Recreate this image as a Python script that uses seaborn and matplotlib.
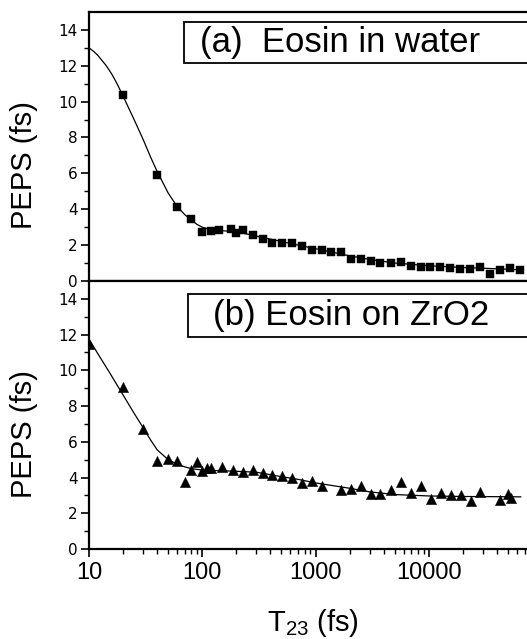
import numpy as np
import pandas as pd
import matplotlib
matplotlib.use("Agg")
import matplotlib.pyplot as plt
import seaborn as sns
from matplotlib.patches import Rectangle
from matplotlib.ticker import FixedLocator, LogLocator, NullFormatter

sns.set_theme(style="ticks")
plt.rcParams["font.family"] = ["Liberation Sans", "DejaVu Sans"]
plt.rcParams["mathtext.default"] = "regular"
plt.rcParams["text.color"] = "black"
plt.rcParams["axes.labelcolor"] = "black"
plt.rcParams["xtick.color"] = "black"
plt.rcParams["ytick.color"] = "black"

# -------------------------------------------------------
# data
# -------------------------------------------------------

# (a) eosin in water - measured points
water_t = [20, 40, 60, 80, 100, 120, 140, 180, 200, 230, 280, 343, 412, 505, 620,
           760, 930, 1140, 1370, 1680, 2060, 2530, 3100, 3740, 4590, 5630, 6900,
           8470, 10200, 12500, 15400, 18800, 23100, 28400, 34800, 42700, 52400, 64300]
water_peps = [10.35, 5.9, 4.1, 3.45, 2.75, 2.8, 2.85, 2.9, 2.7, 2.85, 2.55, 2.35, 2.1,
              2.1, 2.1, 1.95, 1.75, 1.75, 1.6, 1.6, 1.25, 1.2, 1.1, 1.0, 1.0, 1.05,
              0.85, 0.8, 0.8, 0.8, 0.72, 0.68, 0.68, 0.78, 0.4, 0.62, 0.75, 0.6]

# (a) fit curve
water_fit_t = [10, 11, 12, 13, 14, 15, 16, 17, 18, 20, 25, 30, 35, 40, 50, 60, 70,
               80, 90, 100, 120, 150, 200, 300, 500, 700, 1000, 2000, 3000, 5000,
               10000, 20000, 40000, 65000]
water_fit = [13.0, 12.8, 12.57, 12.3, 12.05, 11.78, 11.5, 11.2, 10.9, 10.3, 9.0, 7.9,
             6.9, 6.1, 4.9, 4.15, 3.7, 3.4, 3.15, 3.0, 2.85, 2.8, 2.75, 2.5, 2.2,
             2.0, 1.8, 1.4, 1.2, 1.0, 0.85, 0.75, 0.68, 0.62]

# (b) eosin on ZrO2 - measured points
zro2_t = [10, 20, 30, 40, 50, 60, 70, 80, 90, 100, 110, 120, 150, 186, 228, 280, 343,
          412, 505, 620, 760, 930, 1140, 1680, 2060, 2530, 3100, 3740, 4590, 5630,
          6900, 8470, 10400, 12800, 15700, 19300, 23700, 28500, 42700, 50000, 53000]
zro2_peps = [11.47, 9.07, 6.72, 4.9, 5.05, 4.94, 3.77, 4.43, 4.88, 4.37, 4.54, 4.54,
             4.6, 4.43, 4.3, 4.4, 4.24, 4.15, 4.1, 3.97, 3.68, 3.8, 3.53, 3.31, 3.37,
             3.53, 3.07, 3.07, 3.3, 3.75, 3.14, 3.53, 2.81, 3.14, 3.03, 3.03, 2.7,
             3.2, 2.76, 3.1, 2.85]

# (b) fit curve
zro2_fit_t = [10, 12, 15, 20, 25, 30, 35, 40, 50, 60, 70, 80, 100, 150, 200, 300,
              500, 700, 1000, 2000, 3000, 5000, 10000, 20000, 40000, 65000]
zro2_fit = [11.75, 10.92, 9.93, 8.62, 7.6, 6.8, 6.1, 5.55, 5.0, 4.75, 4.6, 4.5, 4.42,
            4.38, 4.35, 4.3, 4.05, 3.9, 3.7, 3.4, 3.2, 3.05, 2.97, 2.94, 2.93, 2.92]

panel_titles = ["(a)  Eosin in water", "(b) Eosin on ZrO2"]

# -------------------------------------------------------
# figure layout - two stacked panels sharing the log axis
# -------------------------------------------------------

fig = plt.figure(figsize=(5.27, 6.39), dpi=100)
ax_top = fig.add_axes([0.1689, 0.5603, 0.8311, 0.4210])
ax_bot = fig.add_axes([0.1689, 0.1408, 0.8311, 0.4194])

panels = [
    (ax_top, water_t, water_peps, water_fit_t, water_fit, "s", 38),
    (ax_bot, zro2_t, zro2_peps, zro2_fit_t, zro2_fit, "^", 55),
]

box_pos = [(0.217, 0.810, 0.153), (0.226, 0.791, 0.160)]
text_pos = [(0.253, 0.887), (0.283, 0.871)]

for i, (ax, t, p, ft, fv, mk, sz) in enumerate(panels):
    fit_df = pd.DataFrame({"t": ft, "peps": fv})
    pts_df = pd.DataFrame({"t": t, "peps": p})
    sns.lineplot(data=fit_df, x="t", y="peps", ax=ax, color="black", lw=0.9)
    sns.scatterplot(data=pts_df, x="t", y="peps", ax=ax, marker=mk, s=sz,
                    color="black", edgecolor="black", linewidth=0.3, zorder=3)

    ax.set_xscale("log")
    ax.set_xlim(10, 73500)
    ax.set_ylim(0, 15)
    ax.yaxis.set_major_locator(FixedLocator([0, 2, 4, 6, 8, 10, 12, 14]))
    ax.yaxis.set_minor_locator(FixedLocator([1, 3, 5, 7, 9, 11, 13]))
    ax.xaxis.set_major_locator(FixedLocator([10, 100, 1000, 10000]))
    ax.xaxis.set_minor_locator(LogLocator(base=10, subs=np.arange(2, 10)))
    ax.xaxis.set_minor_formatter(NullFormatter())

    for side in ["left", "bottom", "top"]:
        ax.spines[side].set_linewidth(1.6)
        ax.spines[side].set_color("black")
    ax.spines["right"].set_visible(False)

    ax.tick_params(axis="both", which="major", direction="out", length=6,
                   width=1.2, color="black")
    ax.tick_params(axis="both", which="minor", direction="out", length=3.5,
                   width=1.0, color="black")
    ax.tick_params(axis="y", which="major", labelsize=11, pad=2,
                   labelfontfamily="DejaVu Sans")
    ax.tick_params(axis="x", which="major", labelsize=17, pad=3.5)
    ax.tick_params(top=False, right=False, which="both")

    ax.set_ylabel("PEPS (fs)", fontsize=21)
    ax.yaxis.set_label_coords(-0.117, 0.43)

    bx, by, bh = box_pos[i]
    ax.add_patch(Rectangle((bx, by), 1.0, bh, transform=ax.transAxes,
                           facecolor="white", edgecolor="black", lw=1.3,
                           clip_on=False, zorder=4))
    tx, ty = text_pos[i]
    ax.text(tx, ty, panel_titles[i], transform=ax.transAxes, fontsize=25,
            ha="left", va="center", zorder=5)

ax_top.set_xlabel("")
ax_top.tick_params(axis="x", labelbottom=False)

ax_bot.set_xticklabels(["10", "100", "1000", "10000"])
ax_bot.set_xlabel("T$_{23}$ (fs)", fontsize=21)
ax_bot.xaxis.set_label_coords(0.511, -0.215)

plt.savefig("out.png", dpi=100)
